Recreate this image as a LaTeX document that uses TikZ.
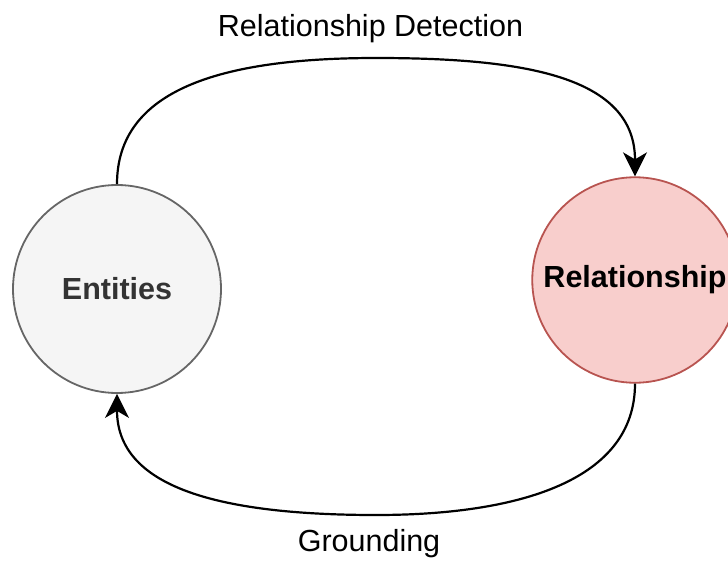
\documentclass[tikz,border=0pt]{standalone}
\usepackage{fontspec}
\setmainfont{Liberation Sans}
\usetikzlibrary{arrows.meta}
\definecolor{entfill}{HTML}{F5F5F5}
\definecolor{entdraw}{HTML}{666666}
\definecolor{enttext}{HTML}{333333}
\definecolor{relfill}{HTML}{F8CECC}
\definecolor{reldraw}{HTML}{B85450}
\tikzset{
  circnode/.style={circle, line width=1.8pt, inner sep=0pt, font=\fontsize{30.5}{36}\selectfont\bfseries},
  edgeline/.style={line width=2.2pt, -{Stealth[length=24pt, width=24pt, inset=7pt]}},
  lbl/.style={font=\fontsize{30.5}{36}\selectfont, anchor=base, inner sep=0pt}
}
\begin{document}
\begin{tikzpicture}[x=1pt, y=-1pt]
\useasboundingbox (0,0) rectangle (728,560);
\node[circnode, fill=entfill, draw=entdraw, text=enttext, minimum size=208pt] (E) at (117,289) {Entities};
\node[circnode, fill=relfill, draw=reldraw, text=black, minimum size=205.5pt] (R) at (635,280) {Relationship};
\coordinate (top) at (376,58);
\coordinate (bot) at (376,515);
\draw[edgeline] (E.north) .. controls (117,90) and (220,58) .. (top) .. controls (520,58) and (635,75) .. (R.north);
\draw[edgeline] (R.south) .. controls (635,480) and (520,515) .. (bot) .. controls (200,515) and (117,480) .. (E.south);
\node[lbl] (t1) at (370.5,36) {Relationship Detection};
\node[lbl] (t2) at (369,551) {Grounding};
\end{tikzpicture}
\end{document}
